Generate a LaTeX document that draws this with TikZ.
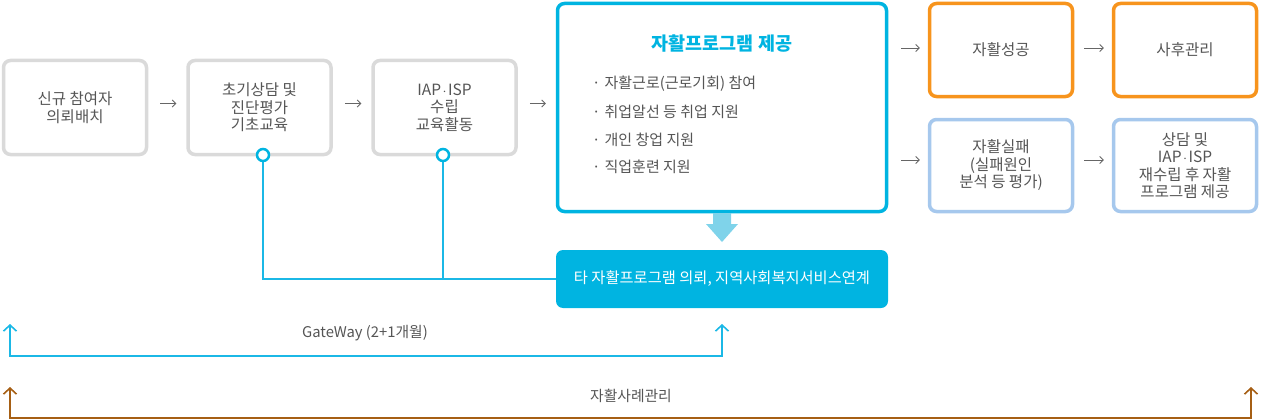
\documentclass[tikz,border=0pt]{standalone}
\usepackage{fontspec}
\setmainfont{Noto Sans CJK KR}
\usetikzlibrary{arrows.meta,calc}
\definecolor{txt}{HTML}{555555}
\definecolor{cy}{HTML}{00B4E1}
\definecolor{cyl}{HTML}{1BB8E6}
\definecolor{gry}{HTML}{DADADA}
\definecolor{org}{HTML}{F7941D}
\definecolor{lbl}{HTML}{A6C8ED}
\definecolor{brn}{HTML}{A65F14}
\definecolor{dwn}{HTML}{7FD3EA}
\definecolor{arw}{HTML}{666666}
\newcommand{\mdot}{\kern1.5pt$\cdot$\kern1.5pt}
\begin{document}
\begin{tikzpicture}[x=1pt,y=-1pt,
  box/.style={draw, rounded corners=7pt, line width=3.5pt, fill=white, minimum width=143pt, minimum height=94pt, align=center, text=txt, font=\fontsize{15.5}{17.5}\selectfont, inner sep=2pt},
  greybox/.style={box, draw=gry},
  orgbox/.style={box, draw=org, minimum height=93pt},
  bluebox/.style={box, draw=lbl, minimum height=92pt},
  arr/.style={draw=arw, line width=0.8pt, -{Straight Barb[length=3.5pt,width=7pt]}},
  link/.style={draw=cyl, line width=2pt},
  knob/.style={circle, draw=cy, line width=2.5pt, fill=white, minimum size=12pt, inner sep=0pt},
  bullet/.style={anchor=west, text=txt, font=\fontsize{15}{17}\selectfont, inner sep=0pt},
  bigarr/.style={line width=1.6pt, {Straight Barb[length=6pt,width=13pt]}-{Straight Barb[length=6pt,width=13pt]}},
  lab/.style={text=txt, font=\fontsize{14.8}{16}\selectfont}
]
\useasboundingbox (0,0) rectangle (1261,420);

% left boxes
\node[greybox] (b1) at (75,107.5) {신규 참여자\\의뢰배치};
\node[greybox] (b2) at (259.5,107.5) {초기상담 및\\진단평가\\기초교육};
\node[greybox] (b3) at (444.5,107.5) {IAP\mdot ISP\\수립\\교육활동};

% main box
\node[box, draw=cy, minimum width=329pt, minimum height=208pt] (main) at (722,107.5) {};
\node[text=cy, font=\fontsize{18.5}{20}\selectfont\bfseries] (title) at (722,44) {자활프로그램 제공};
\node[bullet] (l1) at (592,84) {·\hspace{4pt}자활근로(근로기회) 참여};
\node[bullet] (l2) at (592,112) {·\hspace{4pt}취업알선 등 취업 지원};
\node[bullet] (l3) at (592,140) {·\hspace{4pt}개인 창업 지원};
\node[bullet] (l4) at (592,167) {·\hspace{4pt}직업훈련 지원};

% bottom cyan box
\node[fill=cy, rounded corners=7pt, minimum width=332pt, minimum height=58pt, text=white, font=\fontsize{15.3}{17}\selectfont] (ref) at (722,279) {타 자활프로그램 의뢰, 지역사회복지서비스연계};

% down arrow
\fill[dwn] (713,213) -- (731,213) -- (731,224) -- (738,224) -- (722,242) -- (706,224) -- (713,224) -- cycle;

% right boxes
\node[orgbox] (o1) at (1001,50) {자활성공};
\node[orgbox] (o2) at (1185,50) {사후관리};
\node[bluebox] (f1) at (1001,165.5) {자활실패\\(실패원인\\분석 등 평가)};
\node[bluebox] (f2) at (1185,165.5) {상담 및\\IAP\mdot ISP\\재수립 후 자활\\프로그램 제공};

% short arrows
\draw[arr] ([shift={(12,-4)}]b1.east) -- ([shift={(-10,-4)}]b2.west);
\draw[arr] ([shift={(12,-4)}]b2.east) -- ([shift={(-10,-4)}]b3.west);
\draw[arr] ([shift={(12,-4)}]b3.east) -- ([shift={(-10,-4)}]main.west);
\draw[arr] ([shift={(13,0)}]main.east |- 0,48) -- ([shift={(-8,-2)}]o1.west);
\draw[arr] ([shift={(13,0)}]main.east |- 0,160) -- ([shift={(-8,-5.5)}]f1.west);
\draw[arr] ([shift={(10,-2)}]o1.east) -- ([shift={(-8,-2)}]o2.west);
\draw[arr] ([shift={(10,-5.5)}]f1.east) -- ([shift={(-8,-5.5)}]f2.west);

% link lines
\coordinate (k2) at (263,155);
\coordinate (k3) at (443,155);
\draw[link] (k2) |- (ref.west);
\draw[link] (k3) -- (k3 |- ref.west);
\node[knob] (c2) at (k2) {};
\node[knob] (c3) at (k3) {};

% GateWay
\coordinate (g1) at (10,324);
\coordinate (g2) at (722,324);
\draw[bigarr, draw=cyl] (g1) -- (10,356) -- (722,356) -- (g2);
\node[lab] (gwlab) at (365,333) {GateWay (2+1개월)};

% case management
\coordinate (h1) at (10,387);
\coordinate (h2) at (1251,387);
\draw[bigarr, draw=brn] (h1) -- (10,418) -- (1251,418) -- (h2);
\node[lab] (cmlab) at (631,396) {자활사례관리};
\end{tikzpicture}
\end{document}
